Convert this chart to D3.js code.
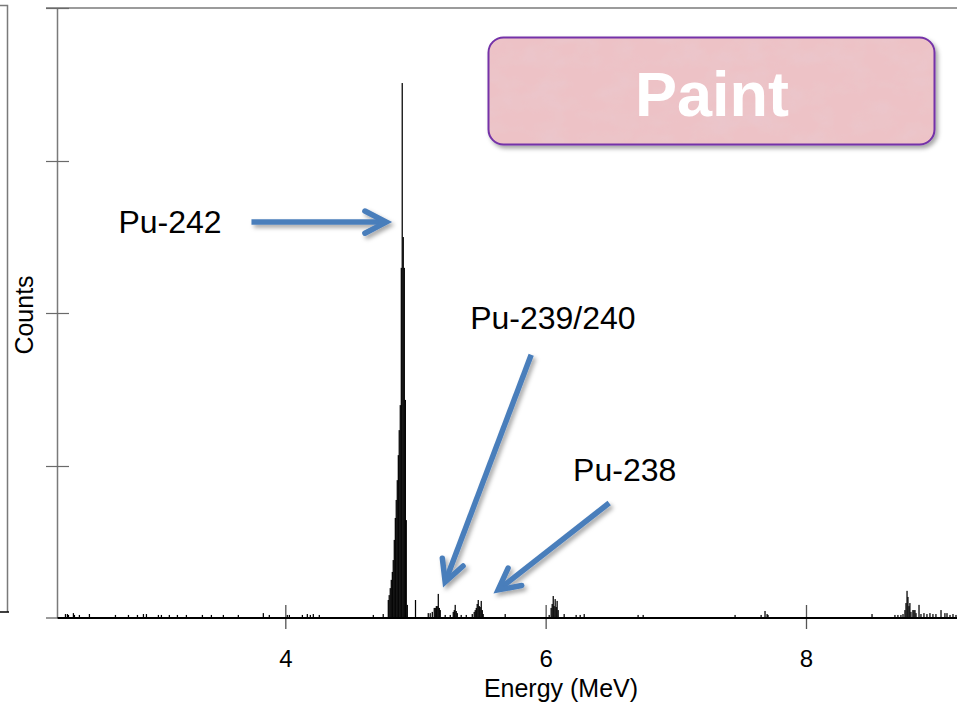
<!DOCTYPE html>
<html>
<head>
<meta charset="utf-8">
<script src="https://cdn.jsdelivr.net/npm/d3@7/dist/d3.min.js"></script>
<style>
  html, body { margin: 0; padding: 0; background: #fff; }
  svg { display: block; font-family: "Liberation Sans", Arial, sans-serif; }
</style>
</head>
<body>
<svg id="chart" width="957" height="702"></svg>
<script>
// Alpha spectrum of a paint sample: energy (MeV) of each occupied channel and its counts
const channelEnergy = [
  2.311, 2.326, 2.334, 2.372, 2.380, 2.418, 2.495, 2.695, 2.795, 2.864,
  2.910, 2.933, 3.025, 3.048, 3.109, 3.171, 3.240, 3.363, 3.432, 3.524,
  3.639, 3.831, 3.877, 4.015, 4.031, 4.131, 4.169, 4.192, 4.215, 4.261,
  4.676, 4.752,
  4.791, 4.798, 4.806, 4.814, 4.822, 4.829, 4.837, 4.845, 4.852, 4.860,
  4.868, 4.875, 4.883, 4.891, 4.898, 4.906, 4.914, 4.922, 4.929, 4.937,
  5.000,
  5.098, 5.113, 5.129, 5.144, 5.152, 5.160, 5.167, 5.175, 5.183, 5.190,
  5.228, 5.267, 5.290, 5.298, 5.305, 5.313, 5.321, 5.351, 5.390,
  5.436, 5.451, 5.459, 5.467, 5.474, 5.482, 5.490, 5.497, 5.505, 5.513, 5.520,
  5.689,
  6.027, 6.042, 6.050, 6.058, 6.065, 6.073, 6.081, 6.088, 6.096,
  6.142, 6.234, 6.265, 6.296, 6.710, 6.749, 7.455, 7.655, 7.685, 7.701, 7.708,
  8.507, 8.683, 8.706, 8.729, 8.745, 8.760, 8.768, 8.776, 8.783, 8.791,
  8.798, 8.806, 8.821, 8.829, 8.837, 8.845, 8.868, 8.883, 8.906, 8.929,
  8.952, 8.975, 8.998, 9.037, 9.067, 9.083, 9.106, 9.129, 9.152
];
const channelCounts = [
  13, 13, 10, 16, 10, 10, 13, 10, 10, 10,
  13, 13, 10, 10, 10, 10, 10, 10, 10, 10,
  10, 16, 10, 10, 10, 10, 13, 10, 13, 10,
  10, 13,
  59, 75, 98, 125, 151, 190, 256, 328, 387, 452,
  534, 616, 698, 1148, 1754, 1249, 1148, 715, 321, 43,
  59,
  16, 16, 20, 33, 33, 39, 39, 79, 33, 26,
  10, 10, 20, 26, 43, 23, 16, 10, 10,
  13, 20, 26, 33, 46, 59, 39, 36, 56, 26, 13,
  13,
  10, 33, 46, 72, 39, 62, 36, 56, 26,
  13, 10, 10, 13, 10, 10, 10, 10, 23, 13, 10,
  13, 10, 10, 10, 13, 26, 49, 89, 69, 39,
  49, 20, 26, 26, 26, 16, 43, 13, 16, 13,
  16, 13, 13, 26, 16, 16, 10, 13, 10
];
// Axis ticks
const energyTicks = [4, 6, 8];
const countTicks = [0, 500, 1000, 1500, 2000];

// Isotope call-outs: label, label anchor, arrow tail and arrow tip (in energy / counts units)
const isotopeLabels = ["Pu-242", "Pu-239/240", "Pu-238"];
const labelEnergy = [2.718, 5.42, 6.211];
const labelCounts = [1262, 948, 449];
const arrowFrom = [[3.74, 1298], [5.889, 863], [6.488, 377]];
const arrowTo = [[4.775, 1298], [5.228, 118], [5.635, 92]];

(function draw() {
  const svg = d3.select("#chart");
  const W = 957;
  const mLeft = 57.5, mTop = 8, mBottom = 618;

  const x = d3.scaleLinear().domain([2.25, 9.16]).range([mLeft, W]);
  const y = d3.scaleLinear().domain([0, 2000]).range([mBottom, mTop]);

  const defs = svg.append("defs");
  const shadow = defs.append("filter").attr("id", "shadow")
    .attr("x", "-20%").attr("y", "-20%").attr("width", "140%").attr("height", "140%");
  shadow.append("feDropShadow").attr("dx", 2.5).attr("dy", 3).attr("stdDeviation", 2)
    .attr("flood-color", "#000").attr("flood-opacity", 0.35);

  // mottled pink texture for the label box
  const tex = defs.append("filter").attr("id", "marble")
    .attr("x", "0").attr("y", "0").attr("width", "100%").attr("height", "100%");
  tex.append("feTurbulence").attr("type", "fractalNoise").attr("baseFrequency", "0.03 0.045")
    .attr("numOctaves", 4).attr("seed", 7).attr("result", "noise");
  tex.append("feColorMatrix").attr("in", "noise").attr("type", "matrix")
    .attr("values", "0 0 0 0 0.82  0 0 0 0 0.58  0 0 0 0 0.62  0 0 0 1.4 -0.55")
    .attr("result", "spots");
  tex.append("feComposite").attr("in", "spots").attr("in2", "SourceGraphic")
    .attr("operator", "in").attr("result", "clip");
  tex.append("feMerge").selectAll("feMergeNode").data(["SourceGraphic", "clip"]).join("feMergeNode")
    .attr("in", d => d);

  // partial neighbouring frame at the far left
  svg.append("path").attr("d", "M0,5.5H7.5V612").attr("fill", "none")
    .attr("stroke", "#7a7a7a").attr("stroke-width", 1.5);
  svg.append("path").attr("d", "M0,612H9").attr("stroke", "#000").attr("stroke-width", 1.5);

  // frame: top border and left axis line
  svg.append("line").attr("x1", 46).attr("x2", W).attr("y1", mTop).attr("y2", mTop)
    .attr("stroke", "#7a7a7a").attr("stroke-width", 1.5);
  svg.append("line").attr("x1", mLeft).attr("x2", mLeft).attr("y1", mTop).attr("y2", mBottom)
    .attr("stroke", "#7a7a7a").attr("stroke-width", 1.5);

  // count ticks crossing the left axis
  svg.append("g").selectAll("line").data(countTicks.slice(1)).join("line")
    .attr("x1", 46).attr("x2", 69)
    .attr("y1", d => Math.round(y(d)) + 0.5).attr("y2", d => Math.round(y(d)) + 0.5)
    .attr("stroke", "#6a6a6a").attr("stroke-width", 1.2);
  svg.append("line").attr("x1", 46).attr("x2", mLeft).attr("y1", mBottom).attr("y2", mBottom)
    .attr("stroke", "#7a7a7a").attr("stroke-width", 1.5);

  // spectrum channels
  svg.append("g").selectAll("rect").data(channelEnergy).join("rect")
    .attr("x", d => x(d) - 0.6)
    .attr("width", 1.25)
    .attr("y", (d, i) => y(channelCounts[i]))
    .attr("height", (d, i) => y(0) - y(channelCounts[i]))
    .attr("fill", "#000");

  // energy axis
  const xAxis = d3.axisBottom(x).tickValues(energyTicks).tickFormat(d3.format("d")).tickSize(11);
  const gx = svg.append("g").attr("transform", `translate(0,${mBottom})`).call(xAxis);
  gx.attr("font-size", null).attr("font-family", null);
  gx.select(".domain").remove();
  gx.selectAll(".tick line").attr("y1", -13).attr("stroke", "#555").attr("stroke-width", 1.3);
  gx.selectAll(".tick text").attr("y", 49).attr("dy", 0)
    .style("font-size", "24px").attr("fill", "#000");
  svg.append("line").attr("x1", mLeft).attr("x2", W).attr("y1", mBottom).attr("y2", mBottom)
    .attr("stroke", "#000").attr("stroke-width", 2);

  // axis titles
  svg.append("text").attr("x", 561).attr("y", 697).attr("text-anchor", "middle")
    .style("font-size", "25px").text("Energy (MeV)");
  svg.append("text").attr("transform", "translate(33,315) rotate(-90)").attr("text-anchor", "middle")
    .style("font-size", "25px").text("Counts");

  // call-out arrows
  const blue = "#4a7ebb";
  const arrows = svg.append("g").attr("filter", "url(#shadow)");
  arrowFrom.forEach((from, i) => {
    const x0 = x(from[0]), y0 = y(from[1]);
    const x1 = x(arrowTo[i][0]), y1 = y(arrowTo[i][1]);
    const ang = Math.atan2(y1 - y0, x1 - x0);
    const len = 24, spread = 0.48;
    const a1 = [x1 - len * Math.cos(ang - spread), y1 - len * Math.sin(ang - spread)];
    const a2 = [x1 - len * Math.cos(ang + spread), y1 - len * Math.sin(ang + spread)];
    arrows.append("line").attr("x1", x0).attr("y1", y0)
      .attr("x2", x1 - 3 * Math.cos(ang)).attr("y2", y1 - 3 * Math.sin(ang))
      .attr("stroke", blue).attr("stroke-width", 5.5);
    arrows.append("path").attr("d", `M${a1}L${x1},${y1}L${a2}`).attr("fill", "none")
      .attr("stroke", blue).attr("stroke-width", 5.5).attr("stroke-linejoin", "miter")
      .attr("stroke-linecap", "round");
  });

  // isotope labels
  svg.append("g").selectAll("text").data(isotopeLabels).join("text")
    .attr("x", (d, i) => x(labelEnergy[i])).attr("y", (d, i) => y(labelCounts[i]))
    .style("font-size", "32px").attr("fill", "#000").text(d => d);

  // sample label box
  const box = svg.append("g");
  box.append("rect").attr("x", 488.5).attr("y", 37.5).attr("width", 446).attr("height", 107)
    .attr("rx", 15).attr("fill", "#edc2c6").attr("stroke", "#7433a8").attr("stroke-width", 2)
    .attr("filter", "url(#shadow)");
  box.append("rect").attr("x", 490).attr("y", 39).attr("width", 443).attr("height", 104)
    .attr("rx", 14).attr("fill", "#edc2c6").attr("filter", "url(#marble)");
  box.append("text").attr("x", 712).attr("y", 116).attr("text-anchor", "middle")
    .style("font-size", "63px").attr("font-weight", "bold").attr("fill", "#fff").text("Paint");
})();
</script>
</body>
</html>
